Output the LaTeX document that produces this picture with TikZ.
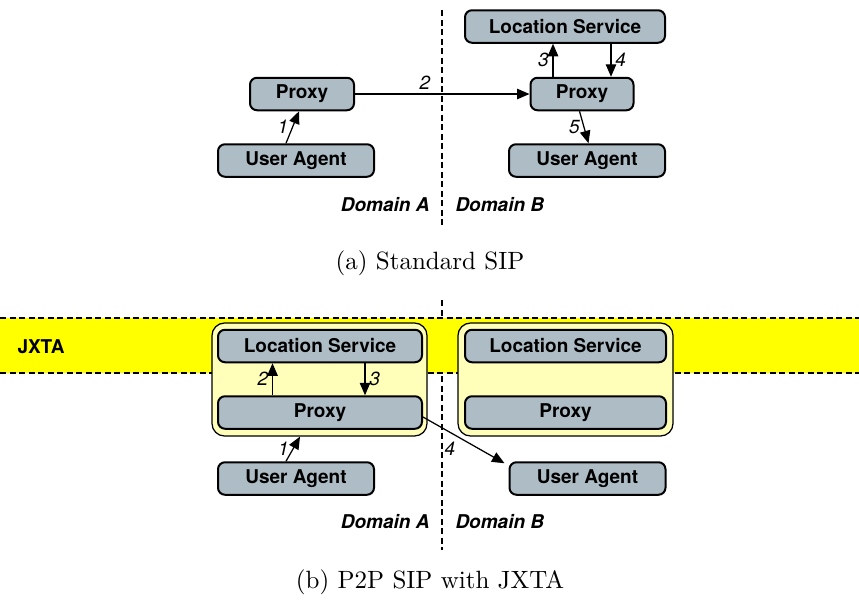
\documentclass[tikz,border=0pt]{standalone}
\usepackage{fontspec}
\usepackage{tikz}
\usetikzlibrary{arrows.meta}
\newfontfamily\helv{TeX Gyre Heros}
\newcommand{\boxfont}{\helv\bfseries\fontsize{7.6}{9}\selectfont}
\newcommand{\numfont}{\helv\itshape\fontsize{7.6}{9}\selectfont}
\newcommand{\domfont}{\helv\bfseries\itshape\fontsize{7.6}{9}\selectfont}
\definecolor{boxgray}{RGB}{174,189,197}
\definecolor{bandyellow}{RGB}{255,255,0}
\definecolor{paleyellow}{RGB}{255,255,185}
\tikzstyle{entity} = [rectangle, rounded corners=2.8pt, minimum height=13pt, inner sep=0pt, text centered, draw=black, line width=0.8pt, fill=boxgray, font=\boxfont]
\tikzstyle{peer} = [rectangle, rounded corners=5pt, minimum width=86pt, minimum height=45.2pt, draw=black, line width=0.5pt, fill=paleyellow]
\tikzstyle{arrow} = [line width=0.5pt,-{Triangle[length=5pt,width=4.2pt]}]
\tikzstyle{num} = [font=\numfont, inner sep=1.5pt]
\tikzstyle{domlabel} = [font=\domfont, inner sep=0pt]
\tikzstyle{border} = [dash pattern=on 2.4pt off 1.4pt, line width=0.5pt]

\begin{document}
\begin{tikzpicture}[x=0.4pt, y=-0.4pt]
    \useasboundingbox (0,0) rectangle (859,601);

    % (a) standard SIP
    \coordinate (divTopA) at (442,10);
    \coordinate (divBotA) at (442,228);
    \draw [border] (divTopA) -- (divBotA);

    \node (lsB) [entity, minimum width=80pt] at (565,26.5) {Location Service};
    \node (proxyA) [entity, minimum width=41.6pt] at (302,94) {Proxy};
    \node (proxyB) [entity, minimum width=41.2pt] at (582,94) {Proxy};
    \node (uaA) [entity, minimum width=62.4pt] at (296,160.5) {User Agent};
    \node (uaB) [entity, minimum width=62.4pt] at (587,160.5) {User Agent};
    \node (domA) [domlabel, anchor=east] at (430,205) {Domain A};
    \node (domB) [domlabel, anchor=west] at (455,205) {Domain B};
    \node (capA) at (430,263) {(a) Standard SIP};

    \draw [arrow] ([xshift=-4pt]uaA.north) -- node[num, left] {1} ([xshift=-1.2pt]proxyA.south);
    \draw [arrow] (proxyA.east) -- node[num, pos=0.4, above] {2} (proxyB.west);
    \draw [arrow] ([xshift=-11.6pt]proxyB.north) -- node[num, left] {3} ([xshift=-11.6pt]proxyB.north |- lsB.south);
    \draw [arrow] ([xshift=11.6pt]proxyB.north |- lsB.south) -- node[num, right] {4} ([xshift=11.6pt]proxyB.north);
    \draw [arrow] ([xshift=-1pt]proxyB.south) -- node[num, left] {5} ([xshift=0.6pt]uaB.north);

    % (b) P2P SIP with JXTA
    \coordinate (divTopB) at (442,300);
    \coordinate (divBotB) at (442,550);
    \draw [border] (divTopB) -- (divBotB);

    \coordinate (bandNW) at (0,318);
    \coordinate (bandNE) at (859,318);
    \coordinate (bandSW) at (0,373);
    \coordinate (bandSE) at (859,373);
    \fill [bandyellow] (bandNW) rectangle (bandSE);
    \draw [border] (bandNW) -- (bandNE);
    \draw [border] (bandSW) -- (bandSE);
    \node (jxta) [anchor=west, font=\boxfont, inner sep=0pt] at (17,347) {JXTA};

    \node (peerA) [peer] at (319.5,379.5) {};
    \node (peerB) [peer] at (565.5,379.5) {};
    \node (lsA2) [entity, minimum width=81.6pt] at (320,346) {Location Service};
    \node (proxyA2) [entity, minimum width=81.6pt] at (320,412.5) {Proxy};
    \node (lsB2) [entity, minimum width=80.4pt] at (565.5,346) {Location Service};
    \node (proxyB2) [entity, minimum width=80.4pt] at (565.5,412.5) {Proxy};
    \node (uaA2) [entity, minimum width=62.4pt] at (296,478.5) {User Agent};
    \node (uaB2) [entity, minimum width=62.4pt] at (587.5,478.5) {User Agent};
    \node (domA2) [domlabel, anchor=east] at (430,522) {Domain A};
    \node (domB2) [domlabel, anchor=west] at (455,522) {Domain B};
    \node (capB) at (430,582) {(b) P2P SIP with JXTA};

    \draw [arrow] ([xshift=-4pt]uaA2.north) -- node[num, left] {1} ([xshift=-7.8pt]peerA.south);
    \draw [arrow] ([xshift=-19pt]proxyA2.north) -- node[num, left] {2} ([xshift=-19pt]proxyA2.north |- lsA2.south);
    \draw [arrow] ([xshift=18pt]proxyA2.north |- lsA2.south) -- node[num, right] {3} ([xshift=18pt]proxyA2.north);
    \draw [arrow] ([yshift=-1.8pt]proxyA2.east) -- node[num, pos=0.45, below left] {4} ([shift={(-1.6pt,-0.8pt)}]uaB2.north west);
\end{tikzpicture}
\end{document}
